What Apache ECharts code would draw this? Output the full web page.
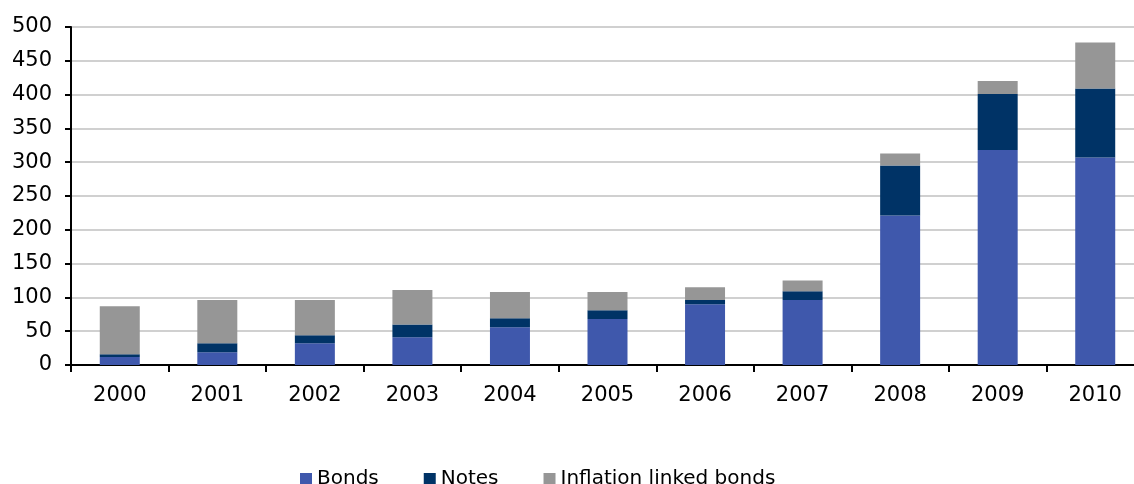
<!DOCTYPE html>
<html>
<head>
<meta charset="utf-8">
<script src="https://cdn.jsdelivr.net/npm/echarts@6/dist/echarts.min.js"></script>
<style>
  html, body { margin: 0; padding: 0; background: #ffffff; }
  #chart { width: 1134px; height: 484px; }
</style>
</head>
<body>
<div id="chart"></div>
<script>
// Issuance by instrument type, stacked per year
const years = ['2000', '2001', '2002', '2003', '2004', '2005', '2006', '2007', '2008', '2009', '2010'];
const bonds = [12, 19, 32, 41, 56, 68, 90, 96, 221, 318, 307];
const notes = [4, 13, 12, 19, 13, 13, 6, 13, 74, 83, 102];
const inflationLinked = [71, 64, 52, 51, 39, 27, 19, 16, 18, 19, 68];
const yTicks = { min: 0, max: 500, interval: 50 };

const fontFamily = 'DejaVu Sans, Verdana, sans-serif';
const chart = echarts.init(document.getElementById('chart'), null, { renderer: 'canvas' });

function barSeries(name, data, color) {
  return {
    name: name,
    type: 'bar',
    stack: 'total',
    data: data,
    barWidth: '41%',
    itemStyle: { color: color },
    emphasis: { disabled: true }
  };
}

chart.setOption({
  animation: false,
  backgroundColor: '#ffffff',
  // the plot runs a little past the right edge of the canvas
  grid: {
    left: 71, width: 1073, top: 27, height: 338,
    containLabel: false,
    outerBoundsMode: 'none'
  },
  legend: {
    top: 464,
    left: 295,
    itemWidth: 12,
    itemHeight: 12,
    itemGap: 45,
    icon: 'rect',
    textStyle: { fontFamily: fontFamily, fontSize: 20, color: '#000000' },
    data: ['Bonds', 'Notes', 'Inflation linked bonds']
  },
  xAxis: {
    type: 'category',
    data: years,
    boundaryGap: true,
    axisLine: { lineStyle: { color: '#000000', width: 2 } },
    axisTick: { show: true, length: 7, alignWithLabel: false, lineStyle: { color: '#000000', width: 2 } },
    axisLabel: { fontFamily: fontFamily, fontSize: 21, color: '#000000', margin: 20 },
    splitLine: { show: false }
  },
  yAxis: {
    type: 'value',
    min: yTicks.min,
    max: yTicks.max,
    interval: yTicks.interval,
    axisLine: { show: true, lineStyle: { color: '#000000', width: 2 } },
    axisTick: { show: true, length: 6, inside: false, lineStyle: { color: '#000000', width: 2 } },
    axisLabel: { fontFamily: fontFamily, fontSize: 21, color: '#000000', margin: 19 },
    splitLine: { show: true, lineStyle: { color: '#d0d0d0', width: 2 } }
  },
  series: [
    barSeries('Bonds', bonds, '#3f58ac'),
    barSeries('Notes', notes, '#003366'),
    barSeries('Inflation linked bonds', inflationLinked, '#969696')
  ]
});
</script>
</body>
</html>
